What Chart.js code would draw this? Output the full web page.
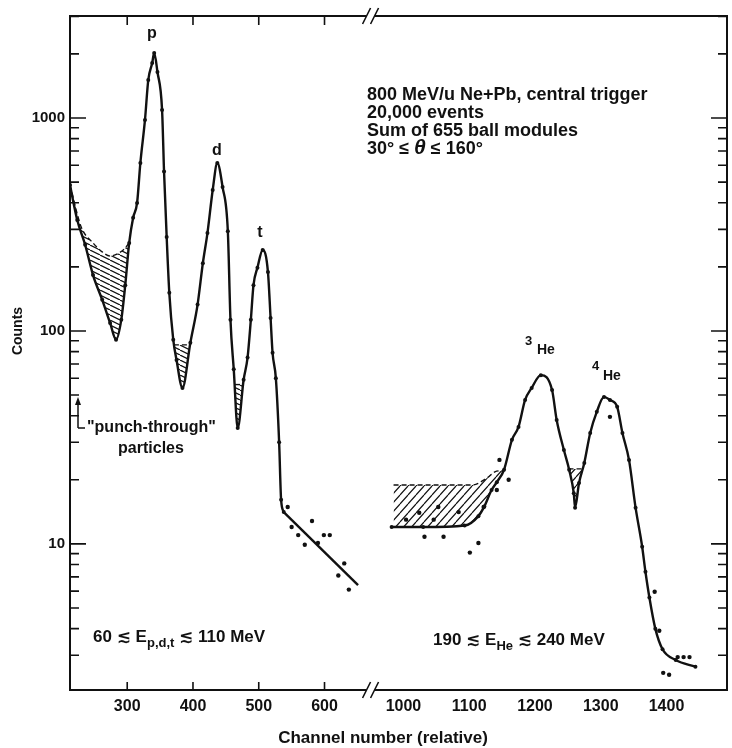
<!DOCTYPE html>
<html>
<head>
<meta charset="utf-8">
<script src="https://cdn.jsdelivr.net/npm/chart.js@4/dist/chart.umd.min.js"></script>
<style>
  html, body { margin: 0; padding: 0; background: #fff; }
</style>
</head>
<body>
<canvas id="chart" width="732" height="748"></canvas>
<script>
// p, d, t peaks (channel, counts)
const pdtChannels = [213, 224, 236, 248, 262, 274, 283, 291, 297, 303, 309, 315, 320, 327, 332, 338, 341, 346, 353, 356, 360, 364, 370, 375, 384, 396, 407, 415, 422, 430, 437, 445, 453, 457, 462, 468, 477, 483, 488, 492, 498, 506, 514, 518, 521, 526, 531, 534, 538]
const pdtCounts = [484, 332, 254, 183, 140, 109, 91, 113, 164, 259, 340, 399, 615, 979, 1507, 1812, 2018, 1644, 1090, 560, 276, 151, 91, 73, 54, 88, 133, 208, 288, 459, 615, 474, 294, 113, 66, 35, 59, 75, 113, 164, 198, 240, 189, 115, 79, 60, 30, 16.1, 14.1]
const pdtTailChannels = [538, 651]
const pdtTailCounts = [14.1, 6.4]
const pdtDotChannels = [544, 550, 560, 570, 581, 590, 599, 608, 621, 630, 637]
const pdtDotCounts = [14.9, 12.0, 11.0, 9.9, 12.8, 10.1, 11.0, 11.0, 7.1, 8.1, 6.1]

// hatched backgrounds under the p,d,t spectrum
const punchChannels = [213, 230, 248, 262, 274, 294, 303]
const punchCounts = [484, 308, 259, 235, 225, 240, 259]
const dipDChannels = [371, 395]
const dipDCounts = [86, 86]
const dipTChannels = [464, 476]
const dipTCounts = [56, 56]

// 3He, 4He peaks
const heChannels = [982, 1030, 1093, 1114, 1123, 1134, 1142, 1153, 1165, 1175, 1185, 1195, 1209, 1226, 1233, 1244, 1252, 1259, 1261, 1267, 1275, 1284, 1294, 1305, 1314, 1325, 1333, 1343, 1353, 1363, 1368, 1374, 1383, 1394, 1414, 1444]
const heCounts = [12.0, 12.0, 12.2, 13.5, 15, 17.9, 19.5, 22.3, 30.8, 35.4, 47.4, 54, 62, 52.8, 38.2, 27.6, 22.3, 17.3, 14.8, 19.3, 24.0, 33.2, 41.7, 49.0, 47.4, 44.0, 33.2, 24.8, 14.8, 9.7, 7.4, 5.6, 4.0, 3.2, 2.85, 2.65]
const heBgChannels = [985, 1104, 1127, 1139, 1152]
const heBgCounts = [18.9, 18.9, 20.4, 21.8, 22.1]
const heDipChannels = [1251, 1271]
const heDipCounts = [22.5, 22.5]
const heDotChannels = [1004, 1024, 1046, 1053, 1084, 1122, 1142, 1146, 1160, 1032, 1061, 1114, 1101, 1314, 1382, 1389, 1417, 1426, 1435, 1395, 1404]
const heDotCounts = [13.0, 14.0, 13.0, 14.9, 14.1, 14.9, 17.9, 24.8, 20.0, 10.8, 10.8, 10.1, 9.1, 39.5, 5.96, 3.91, 2.94, 2.94, 2.94, 2.48, 2.43]

const xTickChannels = [300, 400, 500, 600, 1000, 1100, 1200, 1300, 1400]
const xInnerTicks = [300, 400, 500, 600]
const yTickCounts = [10, 100, 1000]

const INK = '#111'
const FONT = '"Liberation Sans", "DejaVu Sans", sans-serif'

// broken axis: channels above the break are shifted left onto one linear scale
const BREAK_SHIFT = 280
const GAP_U = 670
const u = c => (c > 800 ? c - BREAK_SHIFT : c)
const fromU = v => (v > GAP_U ? v + BREAK_SHIFT : v)
const pts = (cs, ns) => cs.map((c, i) => ({ x: u(c), y: ns[i] }))

function hatch(w, h, rising) {
  const c = document.createElement('canvas')
  c.width = w
  c.height = h
  const g = c.getContext('2d')
  g.strokeStyle = INK
  g.lineWidth = 1.2
  g.beginPath()
  for (const dx of [-w, 0, w]) {
    if (rising) { g.moveTo(dx, h); g.lineTo(dx + w, 0) }
    else { g.moveTo(dx, 0); g.lineTo(dx + w, h) }
  }
  g.stroke()
  return g.createPattern(c, 'repeat')
}

const leftHatch = hatch(10, 5, false)
const rightHatch = hatch(8, 9, true)

const curve = (cs, ns, extra) => Object.assign({
  data: pts(cs, ns),
  borderColor: INK,
  borderWidth: 2.4,
  pointRadius: 2,
  pointBackgroundColor: INK,
  pointBorderWidth: 0,
  cubicInterpolationMode: 'monotone',
  fill: false
}, extra)

const background = (cs, ns, target, pattern) => ({
  data: pts(cs, ns),
  borderColor: INK,
  borderWidth: 1.4,
  borderDash: [5, 3],
  pointRadius: 0,
  cubicInterpolationMode: 'monotone',
  fill: target,
  backgroundColor: pattern
})

const dots = (cs, ns) => ({
  data: pts(cs, ns),
  showLine: false,
  pointRadius: 2.2,
  pointBackgroundColor: INK,
  pointBorderWidth: 0
})

function runs(ctx, x, y, parts) {
  for (const [t, size, dy, style] of parts) {
    ctx.font = (style || 'bold') + ' ' + size + 'px ' + FONT
    ctx.fillText(t, x, y + (dy || 0))
    x += ctx.measureText(t).width
  }
}

const frame = {
  id: 'frame',
  afterDraw(chart) {
    const { ctx, chartArea: a, scales: { x, y } } = chart
    const bx = x.getPixelForValue(GAP_U)
    ctx.save()
    ctx.strokeStyle = INK
    ctx.fillStyle = INK

    // frame with the break
    ctx.lineWidth = 2
    ctx.beginPath()
    ctx.moveTo(bx - 4, a.bottom); ctx.lineTo(a.left, a.bottom); ctx.lineTo(a.left, a.top); ctx.lineTo(bx - 4, a.top)
    ctx.moveTo(bx + 4, a.top); ctx.lineTo(a.right, a.top); ctx.lineTo(a.right, a.bottom); ctx.lineTo(bx + 4, a.bottom)
    ctx.stroke()
    ctx.lineWidth = 1.6
    ctx.beginPath()
    for (const yy of [a.top, a.bottom]) {
      for (const dx of [-4, 4]) {
        ctx.moveTo(bx + dx - 4, yy + 8)
        ctx.lineTo(bx + dx + 4, yy - 8)
      }
    }
    ctx.stroke()

    // inward ticks
    ctx.lineWidth = 1.6
    ctx.beginPath()
    for (const d of [1, 10, 100, 1000]) {
      for (let m = 1; m <= 9; m++) {
        const v = d * m
        if (v < y.min || v > y.max) continue
        const py = y.getPixelForValue(v)
        const len = m === 1 ? 16 : 9
        ctx.moveTo(a.left, py); ctx.lineTo(a.left + len, py)
        ctx.moveTo(a.right, py); ctx.lineTo(a.right - len, py)
      }
    }
    for (const c of xInnerTicks) {
      const px = x.getPixelForValue(u(c))
      ctx.moveTo(px, a.bottom); ctx.lineTo(px, a.bottom - 8)
      ctx.moveTo(px, a.top); ctx.lineTo(px, a.top + 9)
    }
    ctx.stroke()

    // punch-through arrow
    ctx.lineWidth = 1.5
    ctx.beginPath()
    ctx.moveTo(78, 428); ctx.lineTo(78, 402); ctx.moveTo(78, 428); ctx.lineTo(85, 428)
    ctx.stroke()
    ctx.beginPath()
    ctx.moveTo(78, 397); ctx.lineTo(75, 405); ctx.lineTo(81, 405); ctx.closePath()
    ctx.fill()

    // texts
    ctx.textBaseline = 'alphabetic'
    ctx.textAlign = 'center'
    ctx.font = 'bold 16px ' + FONT
    ctx.fillText('p', 152, 38)
    ctx.fillText('d', 217, 155)
    ctx.fillText('t', 260, 237)
    ctx.fillText('particles', 151, 453)
    ctx.font = 'bold 17px ' + FONT
    ctx.fillText('Channel number (relative)', 383, 743)

    ctx.save()
    ctx.translate(22, 331)
    ctx.rotate(-Math.PI / 2)
    ctx.font = 'bold 14px ' + FONT
    ctx.fillText('Counts', 0, 0)
    ctx.restore()

    ctx.textAlign = 'left'
    ctx.font = 'bold 16px ' + FONT
    ctx.fillText('"punch-through"', 87, 432)

    ctx.font = 'bold 18px ' + FONT
    ctx.fillText('800 MeV/u Ne+Pb, central trigger', 367, 100)
    ctx.fillText('20,000 events', 367, 118)
    ctx.fillText('Sum of 655 ball modules', 367, 136)
    runs(ctx, 367, 154, [['30° ≤ ', 18], ['θ', 21, 0, 'italic bold'], [' ≤ 160°', 18]])

    runs(ctx, 525, 345, [['3', 13]])
    runs(ctx, 537, 354, [['He', 14]])
    runs(ctx, 592, 370, [['4', 13]])
    runs(ctx, 603, 380, [['He', 14]])

    runs(ctx, 93, 642, [['60 ≲ E', 17], ['p,d,t', 13, 5], [' ≲ 110 MeV', 17]])
    runs(ctx, 433, 645, [['190 ≲ E', 17], ['He', 13, 5], [' ≲ 240 MeV', 17]])
    ctx.restore()
  }
}

new Chart(document.getElementById('chart'), {
  type: 'line',
  data: {
    datasets: [
      curve(pdtChannels, pdtCounts),
      curve(pdtTailChannels, pdtTailCounts, { pointRadius: 0, cubicInterpolationMode: 'default', tension: 0 }),
      curve(heChannels, heCounts),
      background(punchChannels, punchCounts, 0, leftHatch),
      background(dipDChannels, dipDCounts, 0, leftHatch),
      background(dipTChannels, dipTCounts, 0, leftHatch),
      background(heBgChannels, heBgCounts, 2, rightHatch),
      background(heDipChannels, heDipCounts, 2, rightHatch),
      dots(pdtDotChannels, pdtDotCounts),
      dots(heDotChannels, heDotCounts)
    ]
  },
  options: {
    responsive: false,
    animation: false,
    devicePixelRatio: 1,
    layout: { padding: { top: 16, right: 5, left: 0, bottom: 0 } },
    plugins: {
      legend: { display: false },
      tooltip: { enabled: false }
    },
    scales: {
      x: {
        type: 'linear',
        min: u(213),
        max: u(1492),
        afterBuildTicks: s => { s.ticks = xTickChannels.map(c => ({ value: u(c) })) },
        afterFit: s => { s.height = 58 },
        grid: { display: false, drawTicks: false },
        border: { display: false },
        ticks: {
          padding: 7,
          color: INK,
          maxRotation: 0,
          autoSkip: false,
          font: { family: FONT, size: 16, weight: 'bold' },
          callback: v => String(fromU(v))
        }
      },
      y: {
        type: 'logarithmic',
        min: 2.06,
        max: 3013,
        afterBuildTicks: s => { s.ticks = yTickCounts.map(v => ({ value: v })) },
        afterFit: s => { s.width = 70 },
        grid: { display: false, drawTicks: false },
        border: { display: false },
        ticks: {
          padding: 5,
          color: INK,
          font: { family: FONT, size: 15, weight: 'bold' },
          callback: v => String(v)
        }
      }
    }
  },
  plugins: [frame]
})
</script>
</body>
</html>
